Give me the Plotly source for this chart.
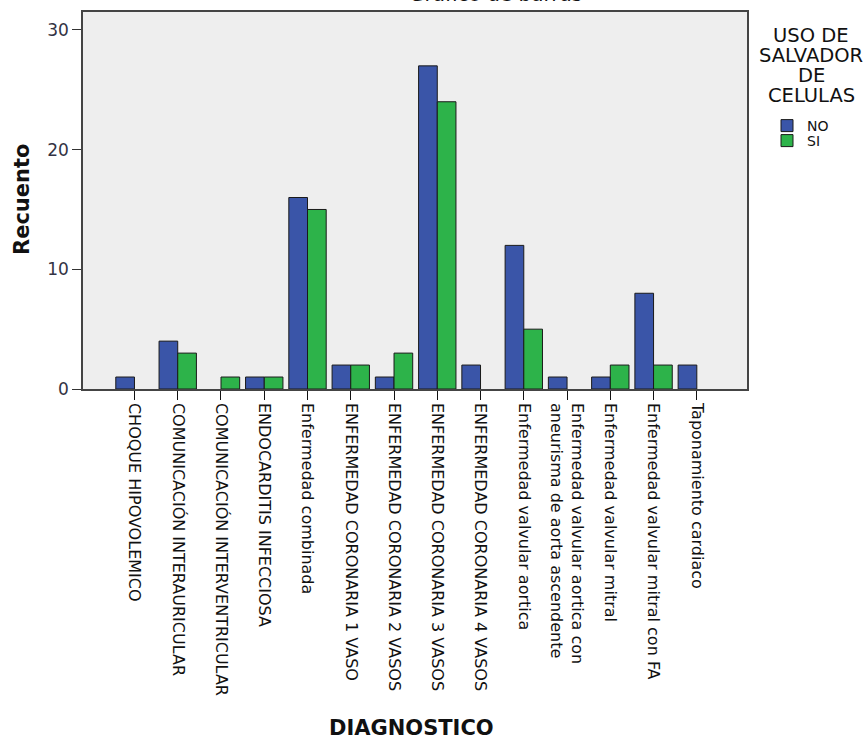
import plotly.graph_objects as go

categories = [
    "CHOQUE HIPOVOLEMICO",
    "COMUNICACIÓN INTERAURICULAR",
    "COMUNICACIÓN INTERVENTRICULAR",
    "ENDOCARDITIS INFECCIOSA",
    "Enfermedad combinada",
    "ENFERMEDAD CORONARIA 1 VASO",
    "ENFERMEDAD CORONARIA 2 VASOS",
    "ENFERMEDAD CORONARIA 3 VASOS",
    "ENFERMEDAD CORONARIA 4 VASOS",
    "Enfermedad valvular aortica",
    "Enfermedad valvular aortica con<br>aneurisma de aorta ascendente",
    "Enfermedad valvular mitral",
    "Enfermedad valvular mitral con FA",
    "Taponamiento cardiaco",
]
no_values = [1, 4, None, 1, 16, 2, 1, 27, 2, 12, 1, 1, 8, 2]
si_values = [None, 3, 1, 1, 15, 2, 3, 24, None, 5, None, 2, 2, None]
y_ticks = [0, 10, 20, 30]
legend_title_lines = ["USO DE", "SALVADOR", "DE", "CELULAS"]

FONT = "DejaVu Sans"
xs = list(range(len(categories)))

fig = go.Figure()
fig.add_trace(go.Bar(x=xs, y=no_values, name="NO", legend="legend", showlegend=True,
                     marker=dict(color="#3A55A8", line=dict(color="#1a1a1a", width=1))))
fig.add_trace(go.Bar(x=xs, y=si_values, name="SI", legend="legend2", showlegend=True,
                     marker=dict(color="#2DB34A", line=dict(color="#1a1a1a", width=1))))

L, R, T, B = 83, 747, 12, 389
W, H = 866, 742
pw, ph = R - L, B - T

def px(x):
    return (x - L) / pw

def py(y):
    return (B - y) / ph

leg_common = dict(xanchor="left", yanchor="top", itemwidth=30,
                  font=dict(size=14, family=FONT, color="#111"),
                  bgcolor="rgba(0,0,0,0)")

annotations = [
    dict(text="Gráfico de barras", xref="paper", yref="paper",
         x=px(495), y=1.0, yshift=4, xanchor="center", yanchor="bottom",
         showarrow=False, font=dict(size=20, family=FONT, color="#111")),
    dict(text="<b>DIAGNOSTICO</b>", xref="paper", yref="paper",
         x=px(411), y=py(728), xanchor="center", yanchor="middle",
         showarrow=False, font=dict(size=21, family=FONT, color="#111")),
    dict(text="<b>Recuento</b>", xref="paper", yref="paper", textangle=-90,
         x=px(22), y=py(200), xanchor="center", yanchor="middle",
         showarrow=False, font=dict(size=21, family=FONT, color="#111")),
]
for i, line in enumerate(legend_title_lines):
    annotations.append(dict(text=line, xref="paper", yref="paper", height=18,
                            x=px(811), y=py(35 + 20 * i), xanchor="center", yanchor="middle",
                            showarrow=False, font=dict(size=19.5, family=FONT, color="#111")))

fig.update_layout(
    width=W, height=H,
    margin=dict(l=L, r=W - R, t=T, b=H - B),
    barmode="group", bargap=0.136, bargroupgap=0,
    plot_bgcolor="#EEEEEE", paper_bgcolor="white",
    font=dict(family=FONT, size=16, color="#111"),
    showlegend=True,
    legend=dict(x=px(767), y=py(110), **leg_common),
    legend2=dict(x=px(767), y=py(125), **leg_common),
    annotations=annotations,
)
fig.update_xaxes(
    range=[-1.19, 14.16], tickvals=xs, ticktext=categories, tickangle=90,
    ticks="outside", ticklen=9, tickcolor="#111", showgrid=False, zeroline=False,
    showline=True, linecolor="#444", linewidth=1.5, mirror=True, automargin=False,
    tickfont=dict(size=16, family=FONT, color="#111"),
)
fig.update_yaxes(
    range=[0, 31.5], tickvals=y_ticks, ticks="outside", ticklen=9, tickcolor="#333",
    showgrid=False, zeroline=False, showline=True, linecolor="#444", linewidth=1.5,
    mirror=True, automargin=False,
    tickfont=dict(size=17, family=FONT, color="#334"),
)
fig.write_html("out.html", config={"displayModeBar": False},
               post_script="document.body.style.margin='0';")
